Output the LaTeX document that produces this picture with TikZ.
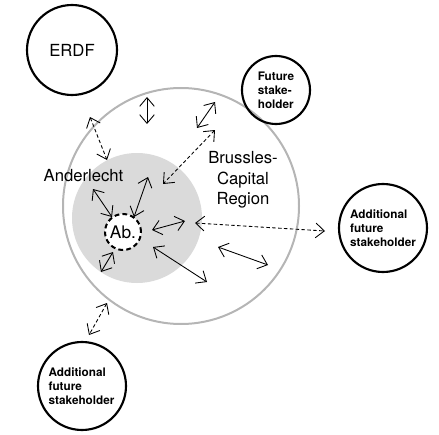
\documentclass[tikz,border=0pt]{standalone}
\usepackage{fontspec}
\setmainfont{TeX Gyre Heros}
\usetikzlibrary{arrows.meta}
\definecolor{ringgrey}{HTML}{B5B5B5}
\definecolor{areagrey}{HTML}{DADADA}
\tikzset{
    actor/.style={draw=black, line width=1.6pt, circle, inner sep=0pt, align=left,
      font=\fontsize{8.8}{10.5}\selectfont\bfseries},
    link/.style={line width=0.65pt,
      {Straight Barb[length=6.5pt,width=11pt]}-{Straight Barb[length=6.5pt,width=11pt]}},
    weaklink/.style={link, dash pattern=on 2.6pt off 1.8pt},
    region/.style={font=\fontsize{12.5}{15.4}\selectfont, align=center, inner sep=0pt}
}

\begin{document}
\begin{tikzpicture}[x=0.75pt, y=-0.75pt]
          \useasboundingbox (0,0) rectangle (439,435);
          % the two areas
          \node [circle, draw=ringgrey, line width=1.5pt, minimum size=177pt] (brussels) at (181,206) {};
          \node [circle, fill=areagrey, minimum size=97.5pt] (anderlecht) at (137,218) {};
          \node [circle, draw=black, fill=white, line width=1.5pt, dash pattern=on 3.6pt off 2.4pt,
                 minimum size=27pt, inner sep=0pt, font=\fontsize{13}{15}\selectfont] (ab) at (123,232) {Ab.};
          \node [region] (bcrlabel) at (243,180) {Brussles-\\Capital\\Region};
          \node [region, anchor=base] (andlabel) at (83.5,181) {Anderlecht};
          % stakeholders
          \node [actor, minimum size=67.5pt, font=\fontsize{12.5}{15}\selectfont] (erdf) at (72,50) {ERDF};
          \node [actor, minimum size=51pt] (future) at (276,90) {Future\\stake-\\holder};
          \node [actor, minimum size=66pt] (addright) at (383,228) {Additional\\future\\stakeholder};
          \node [actor, minimum size=66pt] (addleft) at (82,386) {\raisebox{-3pt}{\parbox{50pt}{Additional\\future\\stakeholder}}};
          % relations
          \foreach \n/\a/\b/\s in {1/{147,97}/{147,124}/link, 2/{215,102}/{197,128}/link,
                                   3/{90,117}/{107,160}/weaklink, 4/{215,130}/{163,184}/weaklink,
                                   5/{93,189}/{112,217}/link, 6/{148,177}/{134,217}/link,
                                   7/{152,230}/{185,221}/link, 8/{195,223}/{325,231}/weaklink,
                                   9/{153,247}/{207,282}/link, 10/{218,247}/{268,265}/link,
                                   11/{113,252}/{101,272}/link, 12/{107,303}/{89,335}/weaklink} {
            \coordinate (s\n) at (\a);
            \coordinate (e\n) at (\b);
            \draw [\s] (s\n) -- (e\n);
          }
\end{tikzpicture}
\end{document}
